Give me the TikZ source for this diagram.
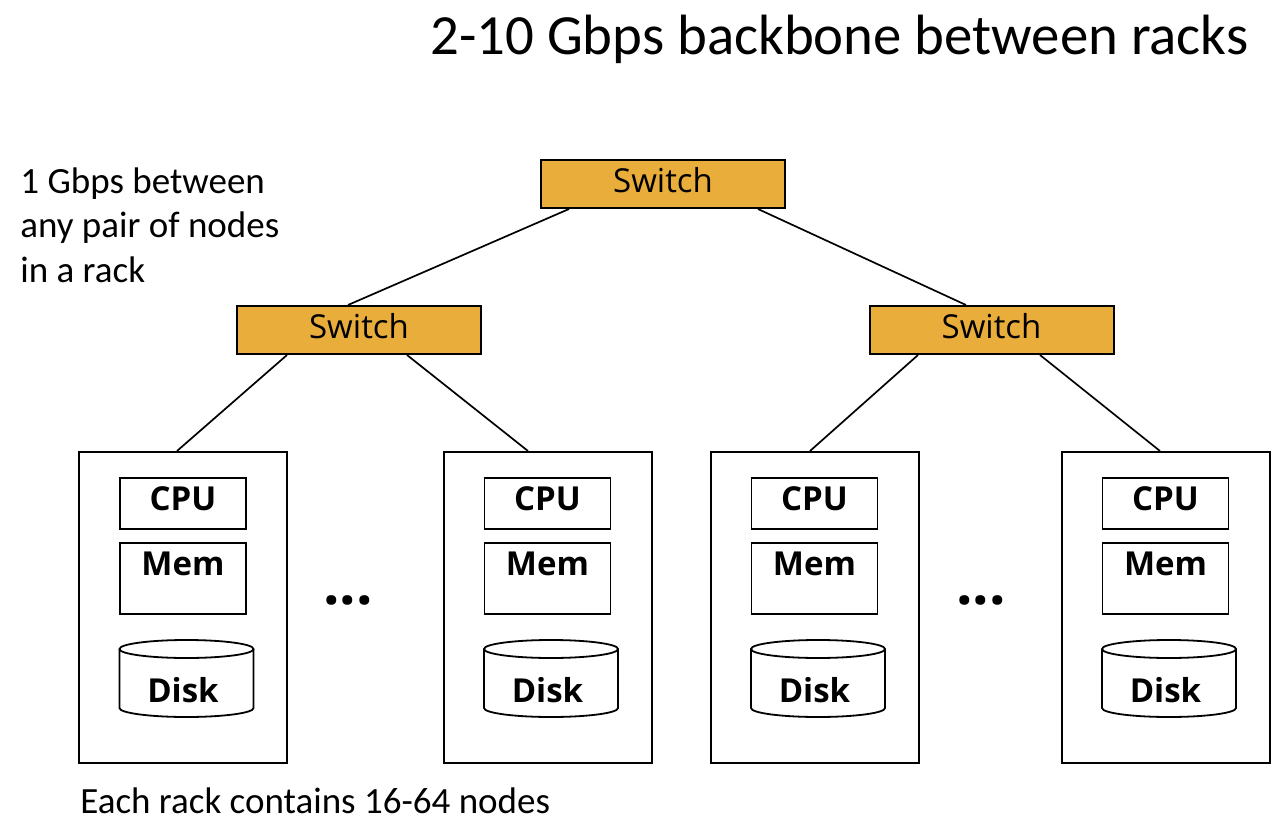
\documentclass[tikz,border=0pt]{standalone}
\usepackage{fontspec}
\setmainfont{Carlito}
\newfontfamily\boxfont{Open Sans}
\definecolor{switchfill}{RGB}{232,173,58}
\begin{document}
\begin{tikzpicture}[x=0.5pt,y=-0.5pt,
  switchbox/.style={draw=black, line width=1pt, fill=switchfill, minimum width=122pt,
    inner sep=0pt, text height=16pt, text depth=8pt, font=\boxfont\fontsize{16.5}{20}\selectfont},
  rackbox/.style={draw=black, line width=1pt, minimum width=104pt, minimum height=155.5pt, inner sep=0pt},
  cpubox/.style={draw=black, line width=0.9pt, minimum width=63pt, inner sep=0pt,
    text height=16pt, text depth=9.5pt, font=\boxfont\bfseries\fontsize{16.5}{20}\selectfont},
  membox/.style={cpubox, text height=16pt, text depth=19.5pt},
  disklabel/.style={anchor=base, inner sep=0pt, font=\boxfont\bfseries\fontsize{16.5}{20}\selectfont},
  diskline/.style={draw=black, line width=0.9pt},
  dots/.style={anchor=base, inner sep=0pt, font=\boxfont\bfseries\fontsize{29}{32}\selectfont},
  link/.style={draw=black, line width=0.85pt},
  plain/.style={anchor=base west, inner sep=0pt, font=\fontsize{18.5}{22}\selectfont}]
\useasboundingbox (0,0) rectangle (1286,824);

% title and notes
\node[plain, font=\fontsize{28.4}{34}\selectfont] (title) at (430,55) {2-10 Gbps backbone between racks};
\node[plain] (note1) at (20,193) {1 Gbps between};
\node[plain] (note2) at (20,237.5) {any pair of nodes};
\node[plain] (note3) at (20,282) {in a rack};
\node[plain] (bottom) at (80,813) {Each rack contains 16-64 nodes};

% switches
\node[switchbox] (top) at (663,184) {Switch};
\node[switchbox] (lsw) at (359,330) {Switch};
\node[switchbox] (rsw) at (991.5,330) {Switch};

% racks
\foreach \i/\cx in {1/183, 2/547.5, 3/814.5, 4/1165.5} {
  \node[rackbox] (rack\i) at (\cx,607.5) {};
  \node[cpubox] (cpu\i) at (\cx,503.5) {CPU};
  \node[membox] (mem\i) at (\cx,578.5) {Mem};
  \pgfmathsetmacro{\dx}{\cx+3.5}
  \coordinate (dtl\i) at (\dx-67,649);
  \coordinate (dtr\i) at (\dx+67,649);
  \coordinate (dbl\i) at (\dx-67,708);
  \path[diskline] (dtl\i) -- (dbl\i) arc[start angle=180, end angle=0, x radius=67, y radius=9] -- (dtr\i);
  \path[diskline] (\dx,649) ellipse[x radius=67, y radius=9];
  \node[disklabel] (disk\i) at (\cx,702) {Disk};
}

\node[dots] (dotsA) at (348,604) {...};
\node[dots] (dotsB) at (981,604) {...};

% connectors
\draw[link] ([xshift=14.5pt]top.south west) -- ([xshift=-5.5pt]lsw.north);
\draw[link] ([xshift=-14pt]top.south east) -- ([xshift=-12.75pt]rsw.north);
\draw[link] ([xshift=-36pt]lsw.south) -- ([xshift=-3pt]rack1.north);
\draw[link] ([xshift=24pt]lsw.south) -- ([xshift=-9.75pt]rack2.north);
\draw[link] ([xshift=-36.75pt]rsw.south) -- ([xshift=-2.25pt]rack3.north);
\draw[link] ([xshift=24.25pt]rsw.south) -- ([xshift=-2.75pt]rack4.north);
\end{tikzpicture}
\end{document}
